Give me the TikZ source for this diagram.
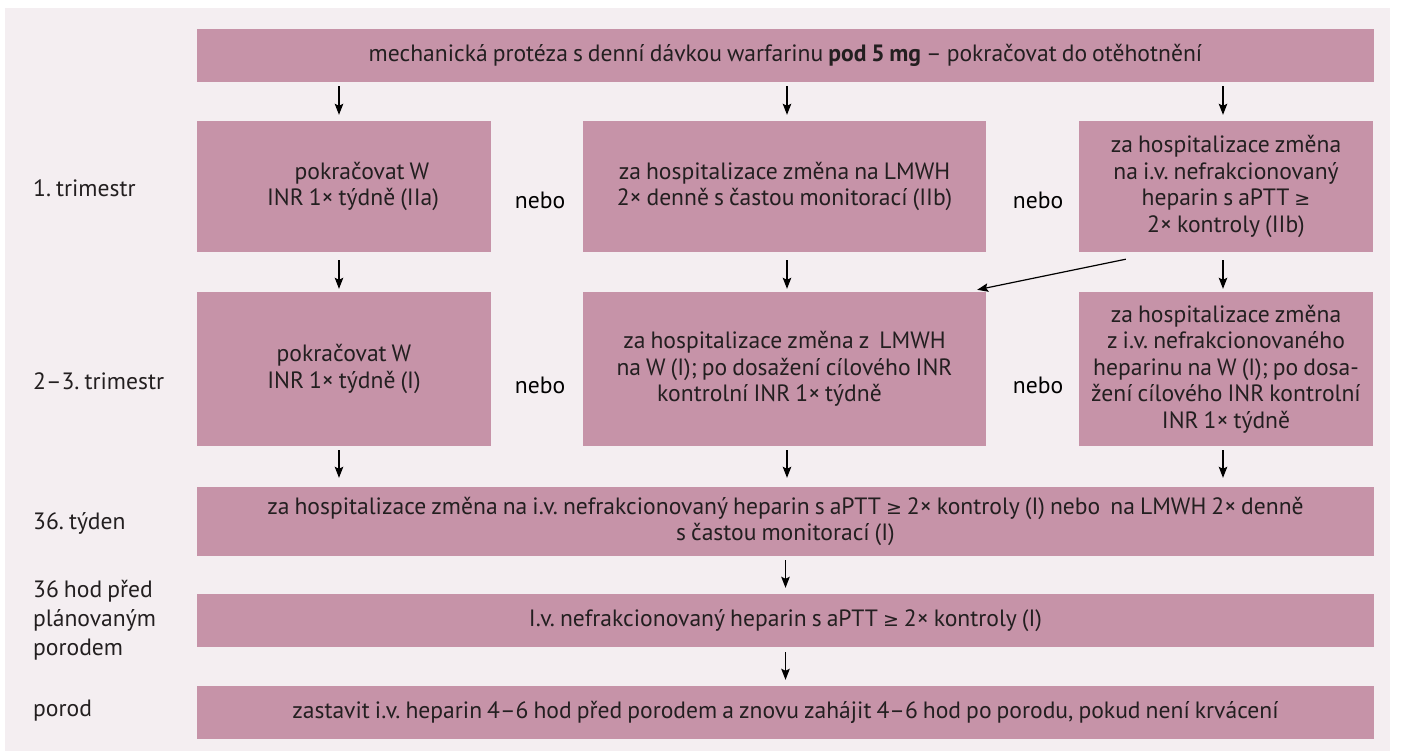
\documentclass[tikz,border=0pt]{standalone}
\usepackage{fontspec}
\setmainfont{PT Sans}[WordSpace=0.8]
\newfontfamily\symf{DejaVu Sans}
\newcommand\gesym{{\symf\fontsize{19}{20}\selectfont ≥}}
\usetikzlibrary{arrows.meta,calc}
\definecolor{bgc}{HTML}{F4EEF1}
\definecolor{boxc}{HTML}{C693A8}
\definecolor{txt}{HTML}{231F20}
\newcommand\fs{\fontsize{23.6}{26.5}\selectfont\frenchspacing}
\begin{document}
\begin{tikzpicture}[x=1pt,y=-1pt,
  box/.style={fill=boxc, draw=none, inner sep=0pt, align=center, text=txt, font=\fs},
  lbl/.style={anchor=west, align=left, text=txt, inner sep=0pt, font=\fontsize{23.6}{29}\selectfont\frenchspacing},
  nebo/.style={text=black, inner sep=0pt, font=\fs},
  arr/.style={-{Stealth[length=11pt,width=8.5pt,inset=2pt]}, line width=1.2pt, black}]
\useasboundingbox (0,0) rectangle (1401,753);
\fill[bgc] (5,8) rectangle (1390,751);

\node[box, minimum width=1177pt, minimum height=53pt] (top) at (785.5,55.5)
  {mechanická protéza s denní dávkou warfarinu \textbf{pod 5 mg} – pokračovat do otěhotnění};

\node[box, minimum width=294pt, minimum height=131pt] (r1a) at (344,186.5)
  {\hspace*{36pt}pokračovat W\\\hspace*{18pt}INR 1× týdně (IIa)};
\node[box, minimum width=403pt, minimum height=131pt] (r1b) at (784.5,186.5)
  {za hospitalizace změna na LMWH\\2× denně s častou monitorací (IIb)};
\node[box, minimum width=294pt, minimum height=131pt] (r1c) at (1226,186.5)
  {za hospitalizace změna\\na i.v. nefrakcionovaný\\heparin s aPTT \gesym\\2× kontroly (IIb)};

\node[box, minimum width=294pt, minimum height=154pt] (r2a) at (344,369)
  {pokračovat W\\INR 1× týdně (I)};
\node[box, minimum width=403pt, minimum height=154pt] (r2b) at (784.5,369)
  {za hospitalizace změna z\ \ LMWH\\na W (I); po dosažení cílového INR\\kontrolní INR 1× týdně\hspace*{30pt}};
\node[box, minimum width=294pt, minimum height=154pt] (r2c) at (1226,369)
  {za hospitalizace změna\\z i.v. nefrakcionovaného\\heparinu na W (I); po dosa-\\žení cílového INR kontrolní\\INR 1× týdně};

\node[box, minimum width=1177pt, minimum height=69pt] (w36) at (785.5,521.5)
  {za hospitalizace změna na i.v. nefrakcionovaný heparin s aPTT \gesym{} 2× kontroly (I) nebo\ \ na LMWH 2× denně\\s častou monitorací (I)};
\node[box, minimum width=1177pt, minimum height=53pt] (hod) at (785.5,620.5)
  {I.v. nefrakcionovaný heparin s aPTT \gesym{} 2× kontroly (I)};
\node[box, minimum width=1177pt, minimum height=53pt] (por) at (785.5,712.5)
  {zastavit i.v. heparin 4–6 hod před porodem a znovu zahájit 4–6 hod po porodu, pokud není krvácení};

\node[lbl] (l1) at (33,188) {1. trimestr};
\node[lbl] (l2) at (33,381) {2–3. trimestr};
\node[lbl] (l3) at (33,523) {36. týden};
\node[lbl] (l4) at (33,620) {36 hod před\\plánovaným\\porodem};
\node[lbl] (l5) at (33,711) {porod};

\node[nebo] (n1) at (540,200) {nebo};
\node[nebo] (n2) at (1038,200) {nebo};
\node[nebo] (n3) at (540,385) {nebo};
\node[nebo] (n4) at (1038,385) {nebo};

% top -> row 1
\draw[arr, shorten <=4pt, shorten >=6pt] ($(top.south -| r1a.north)+(-5,0)$) -- ($(r1a.north)+(-5,0)$);
\draw[arr, shorten <=4pt, shorten >=6pt] ($(top.south -| r1b.north)+(2.5,0)$) -- ($(r1b.north)+(2.5,0)$);
\draw[arr, shorten <=4pt, shorten >=6pt] ($(top.south -| r1c.north)+(-3,0)$) -- ($(r1c.north)+(-3,0)$);
% row 1 -> row 2
\draw[arr, shorten <=8pt, shorten >=3pt] ($(r1a.south)+(-5,0)$) -- ($(r2a.north)+(-5,0)$);
\draw[arr, shorten <=8pt, shorten >=3pt] ($(r1b.south)+(2.5,0)$) -- ($(r2b.north)+(2.5,0)$);
\draw[arr, shorten <=8pt, shorten >=3pt] ($(r1c.south)+(-3,0)$) -- ($(r2c.north)+(-3,0)$);
\coordinate (d1) at ($(r1c.south west)+(47,7)$);
\draw[arr] (d1) -- ($(r2b.north east)+(-9,-2)$);
% row 2 -> 36
\draw[arr, shorten <=4pt, shorten >=9pt] ($(r2a.south)+(-5,0)$) -- ($(r2a.south|-w36.north)+(-5,0)$);
\draw[arr, shorten <=4pt, shorten >=9pt] ($(r2b.south)+(2.5,0)$) -- ($(r2b.south|-w36.north)+(2.5,0)$);
\draw[arr, shorten <=4pt, shorten >=9pt] ($(r2c.south)+(-3,0)$) -- ($(r2c.south|-w36.north)+(-3,0)$);
% 36 -> hod -> por
\draw[arr, shorten <=4pt, shorten >=6pt] (w36.south) -- (hod.north);
\draw[arr, shorten <=5pt, shorten >=6pt] (hod.south) -- (por.north);
\end{tikzpicture}
\end{document}
